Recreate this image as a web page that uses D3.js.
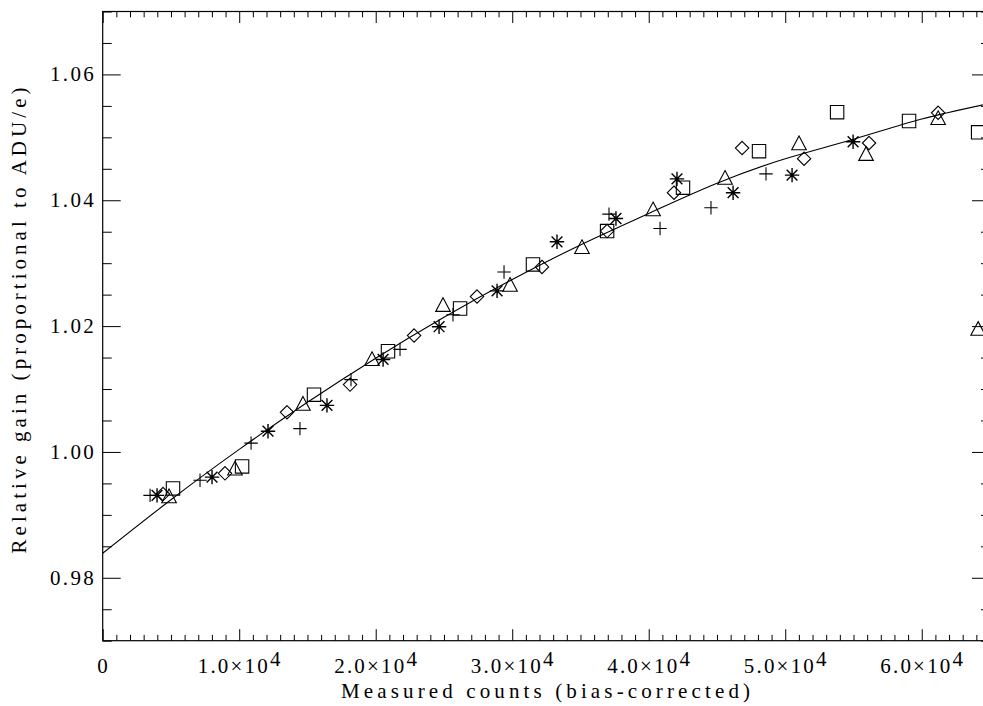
<!DOCTYPE html>
<html>
<head>
<meta charset="utf-8">
<script src="https://cdn.jsdelivr.net/npm/d3@7"></script>
<style>
  html, body { margin: 0; padding: 0; background: #fff; }
  svg { display: block; }
  text { font-family: "Liberation Serif", "DejaVu Serif", serif; fill: #000; }
</style>
</head>
<body>
<svg id="chart" width="983" height="706"></svg>
<script>
// Relative gain measured at several signal levels, five data sets (one symbol each)
const plusPts = [[3470,0.9931],[7130,0.9955],[10870,1.0014],[14450,1.0037],[18190,1.0115],[21780,1.0163],[25660,1.0218],[29400,1.0286],[37090,1.0378],[40830,1.0355],[44560,1.0388],[48590,1.0442]];
const starPts = [[3980,0.9931],[8010,0.9960],[12110,1.0033],[16430,1.0074],[20540,1.0147],[24640,1.0199],[28890,1.0256],[33280,1.0334],[37600,1.0371],[42070,1.0434],[46180,1.0412],[50500,1.0440],[54970,1.0493]];
const diamondPts = [[4420,0.9933],[8960,0.9966],[13500,1.0063],[18120,1.0107],[22810,1.0185],[27420,1.0247],[32180,1.0294],[36950,1.0351],[41850,1.0412],[46840,1.0483],[51380,1.0466],[56140,1.0491],[61200,1.0539]];
const trianglePts = [[4860,0.9930],[9690,0.9974],[14670,1.0077],[19730,1.0148],[24930,1.0234],[29840,1.0266],[35110,1.0326],[40320,1.0386],[45590,1.0436],[51010,1.0491],[55920,1.0474],[61200,1.0531],[64130,1.0196]];
const squarePts = [[5150,0.9942],[10210,0.9977],[15480,1.0091],[20900,1.0160],[26180,1.0228],[31520,1.0298],[36950,1.0351],[42510,1.0420],[48080,1.0478],[53800,1.0540],[59070,1.0526],[64130,1.0508]];

// Smooth fitted gain curve, sampled every 5000 counts
const fitX = [0,5000,10000,15000,20000,25000,30000,35000,40000,45000,50000,55000,60000,65000];
const fitY = [0.9839,0.9924,1.0004,1.0079,1.0149,1.0214,1.0274,1.0329,1.0379,1.0427,1.0466,1.0497,1.0529,1.0554];

// Axis ticks and labels
const xMajor = [0,10000,20000,30000,40000,50000,60000];
const xLabels = ["0","1.0","2.0","3.0","4.0","5.0","6.0"];
const yMajor = [0.98,1.00,1.02,1.04,1.06];
const yLabels = ["0.98","1.00","1.02","1.04","1.06"];

const svg = d3.select("#chart");
const L = 102.7, R = 990, T = 11.5, B = 640.7;

const x = d3.scaleLinear().domain([0,65000]).range([L,R]);
const y = d3.scaleLinear().domain([0.97,1.07]).range([B,T]);

const xMinor = d3.range(0,65001,1000).filter(v => v % 10000 !== 0);
const yMinor = d3.range(0,21).map(i => +(0.97 + i*0.005).toFixed(3)).filter(v => !yMajor.some(m => Math.abs(m-v) < 1e-6));

function styleAxis(g){
  g.select(".domain").remove();
  g.selectAll("line").attr("stroke","#000").attr("stroke-width",1);
  g.selectAll("text").remove();
}
// bottom / top axes (ticks point inward)
svg.append("g").attr("transform",`translate(0,${B})`)
  .call(d3.axisBottom(x).tickValues(xMajor).tickSize(-11.5).tickFormat("")).call(styleAxis);
svg.append("g").attr("transform",`translate(0,${B})`)
  .call(d3.axisBottom(x).tickValues(xMinor).tickSize(-5.8).tickFormat("")).call(styleAxis);
svg.append("g").attr("transform",`translate(0,${T})`)
  .call(d3.axisTop(x).tickValues(xMajor).tickSize(-11.5).tickFormat("")).call(styleAxis);
svg.append("g").attr("transform",`translate(0,${T})`)
  .call(d3.axisTop(x).tickValues(xMinor).tickSize(-5.8).tickFormat("")).call(styleAxis);
// left / right axes
svg.append("g").attr("transform",`translate(${L},0)`)
  .call(d3.axisLeft(y).tickValues(yMajor).tickSize(-18).tickFormat("")).call(styleAxis);
svg.append("g").attr("transform",`translate(${L},0)`)
  .call(d3.axisLeft(y).tickValues(yMinor).tickSize(-9).tickFormat("")).call(styleAxis);
svg.append("g").attr("transform",`translate(${R},0)`)
  .call(d3.axisRight(y).tickValues(yMajor).tickSize(-18).tickFormat("")).call(styleAxis);
svg.append("g").attr("transform",`translate(${R},0)`)
  .call(d3.axisRight(y).tickValues(yMinor).tickSize(-9).tickFormat("")).call(styleAxis);

// plot frame
svg.append("rect").attr("x",L).attr("y",T).attr("width",R-L).attr("height",B-T)
  .attr("fill","none").attr("stroke","#000").attr("stroke-width",1.2);

// x tick labels with power-of-ten notation
xMajor.forEach((v,i) => {
  const t = svg.append("text").attr("x",x(v)+1).attr("y",672.5)
    .attr("text-anchor","middle").attr("font-size",21).attr("letter-spacing",2.2);
  if (v === 0) { t.text(xLabels[i]); return; }
  t.append("tspan").text(xLabels[i] + "\u00d710");
  t.append("tspan").attr("dy",-7).text("4");
});
// y tick labels
yMajor.forEach((v,i) => {
  svg.append("text").attr("x",96).attr("y",y(v)+7)
    .attr("text-anchor","end").attr("font-size",21).attr("letter-spacing",2.3).text(yLabels[i]);
});

// axis titles
svg.append("text").attr("x",545.5).attr("y",698).attr("text-anchor","middle")
  .attr("font-size",21).attr("textLength",409).attr("lengthAdjust","spacing")
  .text("Measured counts (bias-corrected)");
svg.append("text").attr("transform","translate(26,320.5) rotate(-90)").attr("text-anchor","middle")
  .attr("font-size",21).attr("textLength",466).attr("lengthAdjust","spacing")
  .text("Relative gain (proportional to ADU/e)");

// clip everything inside the frame
svg.append("clipPath").attr("id","plotclip").append("rect")
  .attr("x",L).attr("y",T).attr("width",R-L).attr("height",B-T);
const plot = svg.append("g").attr("clip-path","url(#plotclip)");

// fitted curve
const fit = fitX.map((v,i) => [v, fitY[i]]);
plot.append("path").datum(fit)
  .attr("d", d3.line().x(d => x(d[0])).y(d => y(d[1])).curve(d3.curveNatural))
  .attr("fill","none").attr("stroke","#000").attr("stroke-width",1.1);

// symbol shapes (pixel offsets around each point)
const s = 6.7, a = 7.2, k = 5.4;
const shapes = {
  plus: `M${-s},0H${s}M0,${-s}V${s}`,
  star: `M${-a},0H${a}M0,${-a}V${a}M${-k},${-k}L${k},${k}M${-k},${k}L${k},${-k}`,
  diamond: `M0,${-s}L${s},0L0,${s}L${-s},0Z`,
  triangle: `M0,${-s-0.3}L${s+0.6},${s}L${-s-0.6},${s}Z`,
  square: `M${-s},${-s}H${s}V${s}H${-s}Z`
};
const sets = [
  [plusPts, "plus", 1.1], [starPts, "star", 1.4], [diamondPts, "diamond", 1.1],
  [trianglePts, "triangle", 1.1], [squarePts, "square", 1.1]
];
sets.forEach(([pts, shape, w]) => {
  plot.append("g").selectAll("path").data(pts).join("path")
    .attr("transform", d => `translate(${x(d[0])},${y(d[1])})`)
    .attr("d", shapes[shape])
    .attr("fill","none").attr("stroke","#000").attr("stroke-width",w);
});
</script>
</body>
</html>
